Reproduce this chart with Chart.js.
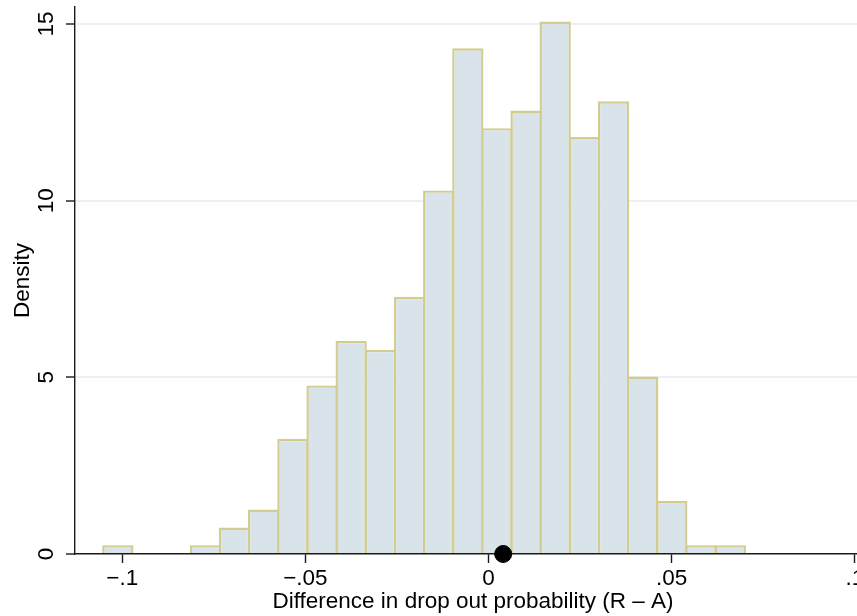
<!DOCTYPE html>
<html>
<head>
<meta charset="utf-8">
<script src="https://cdn.jsdelivr.net/npm/chart.js@4.4.1/dist/chart.umd.min.js"></script>
<style>
    html, body { margin: 0; padding: 0; background: #ffffff; }
    #wrap { width: 857px; height: 616px; position: relative; }
</style>
</head>
<body>
<div id="wrap"><canvas id="histChart"></canvas></div>
<script>
// bin edges of the histogram (difference R - A)
const binEdges = [
    -0.1052, -0.0972, -0.0892, -0.0813, -0.0733, -0.0654, -0.0574, -0.0494,
    -0.0415, -0.0335, -0.0255, -0.0176, -0.0096, -0.0017, 0.0063, 0.0142,
    0.0222, 0.0302, 0.0381, 0.0461, 0.0540, 0.0620, 0.0700
];
// density of each bin
const density = [
    0.25, 0, 0, 0.25, 0.75, 1.26, 3.26, 4.77, 6.03, 5.78, 7.28,
    10.29, 14.31, 12.05, 12.55, 15.07, 11.80, 12.81, 5.02, 1.51, 0.25, 0.25
];
// the black dot on the x axis
const markerX = [0.004];
const markerY = [0];

const xTicks = [-0.1, -0.05, 0, 0.05, 0.1];
const xTickLabels = ["\u2212.1", "\u2212.05", "0", ".05", ".1"];
const yTicks = [0, 5, 10, 15];
const yTickLabels = ["0", "5", "10", "15"];

const xTitle = "Difference in drop out probability (R \u2013 A)";
const yTitle = "Density";

const FONT = "22.5px 'Liberation Sans', Arial, Helvetica, sans-serif";
const AXIS_COLOR = "#1a1a1a";

const barData = density.map((d, i) => ({ x: (binEdges[i] + binEdges[i + 1]) / 2, y: d }));
const dotData = markerX.map((v, i) => ({ x: v, y: markerY[i] }));

// draws the Stata style tick labels and titles
const labelPlugin = {
    id: "stataLabels",
    afterDraw(chart) {
        const ctx = chart.ctx;
        const xs = chart.scales.x;
        const ys = chart.scales.y;
        const area = chart.chartArea;
        ctx.save();
        ctx.fillStyle = "#000000";
        ctx.font = FONT;

        // x tick labels
        ctx.textAlign = "center";
        ctx.textBaseline = "alphabetic";
        xTicks.forEach((v, i) => {
            ctx.fillText(xTickLabels[i], xs.getPixelForValue(v), 585);
        });
        // x title
        ctx.fillText(xTitle, (area.left + area.right) / 2 + 7, 608);

        // y tick labels, rotated
        yTicks.forEach((v, i) => {
            ctx.save();
            ctx.translate(53, ys.getPixelForValue(v));
            ctx.rotate(-Math.PI / 2);
            ctx.fillText(yTickLabels[i], 0, 0);
            ctx.restore();
        });
        // y title
        ctx.save();
        ctx.translate(29, (area.top + area.bottom) / 2);
        ctx.rotate(-Math.PI / 2);
        ctx.fillText(yTitle, 0, 0);
        ctx.restore();

        ctx.restore();
    },
};

const ctx = document.getElementById("histChart");

new Chart(ctx, {
    data: {
        datasets: [
            {
                type: "scatter",
                data: dotData,
                backgroundColor: "#000000",
                borderColor: "#000000",
                pointRadius: 8.5,
                pointHoverRadius: 8.5,
                clip: false,
                order: 0,
            },
            {
                type: "bar",
                data: barData,
                backgroundColor: "#d9e4ea",
                borderColor: "#d3cc90",
                borderWidth: 2.4,
                borderSkipped: "start",
                barPercentage: 1.075, // overlap neighbours so outlines share one line
                categoryPercentage: 1,
                order: 1,
            },
        ],
    },
    options: {
        responsive: true,
        maintainAspectRatio: false,
        animation: false,
        layout: {
            autoPadding: false,
            padding: { left: 66, right: 0, top: 7, bottom: 53 },
        },
        scales: {
            x: {
                type: "linear",
                min: -0.1129,
                max: 0.1006,
                offset: false,
                z: 1,
                border: { display: true, color: AXIS_COLOR, width: 1.4 },
                grid: {
                    offset: false,
                    drawOnChartArea: false,
                    drawTicks: true,
                    tickLength: 9,
                    tickColor: AXIS_COLOR,
                    tickWidth: 1.4,
                },
                ticks: { display: false },
                afterBuildTicks: (scale) => {
                    scale.ticks = xTicks.map((v) => ({ value: v }));
                },
            },
            y: {
                type: "linear",
                min: 0,
                max: 15.48,
                border: { display: true, color: AXIS_COLOR, width: 1.4 },
                grid: {
                    color: (c) => (c.tick && c.tick.value === 0 ? "rgba(0,0,0,0)" : "#eaf0f4"),
                    lineWidth: 2,
                    drawTicks: true,
                    tickLength: 9,
                    tickColor: AXIS_COLOR,
                    tickWidth: 1.4,
                },
                ticks: { display: false },
                afterBuildTicks: (scale) => {
                    scale.ticks = yTicks.map((v) => ({ value: v }));
                },
            },
        },
        plugins: {
            legend: { display: false },
            tooltip: { enabled: false },
        },
    },
    plugins: [labelPlugin],
});
</script>
</body>
</html>
